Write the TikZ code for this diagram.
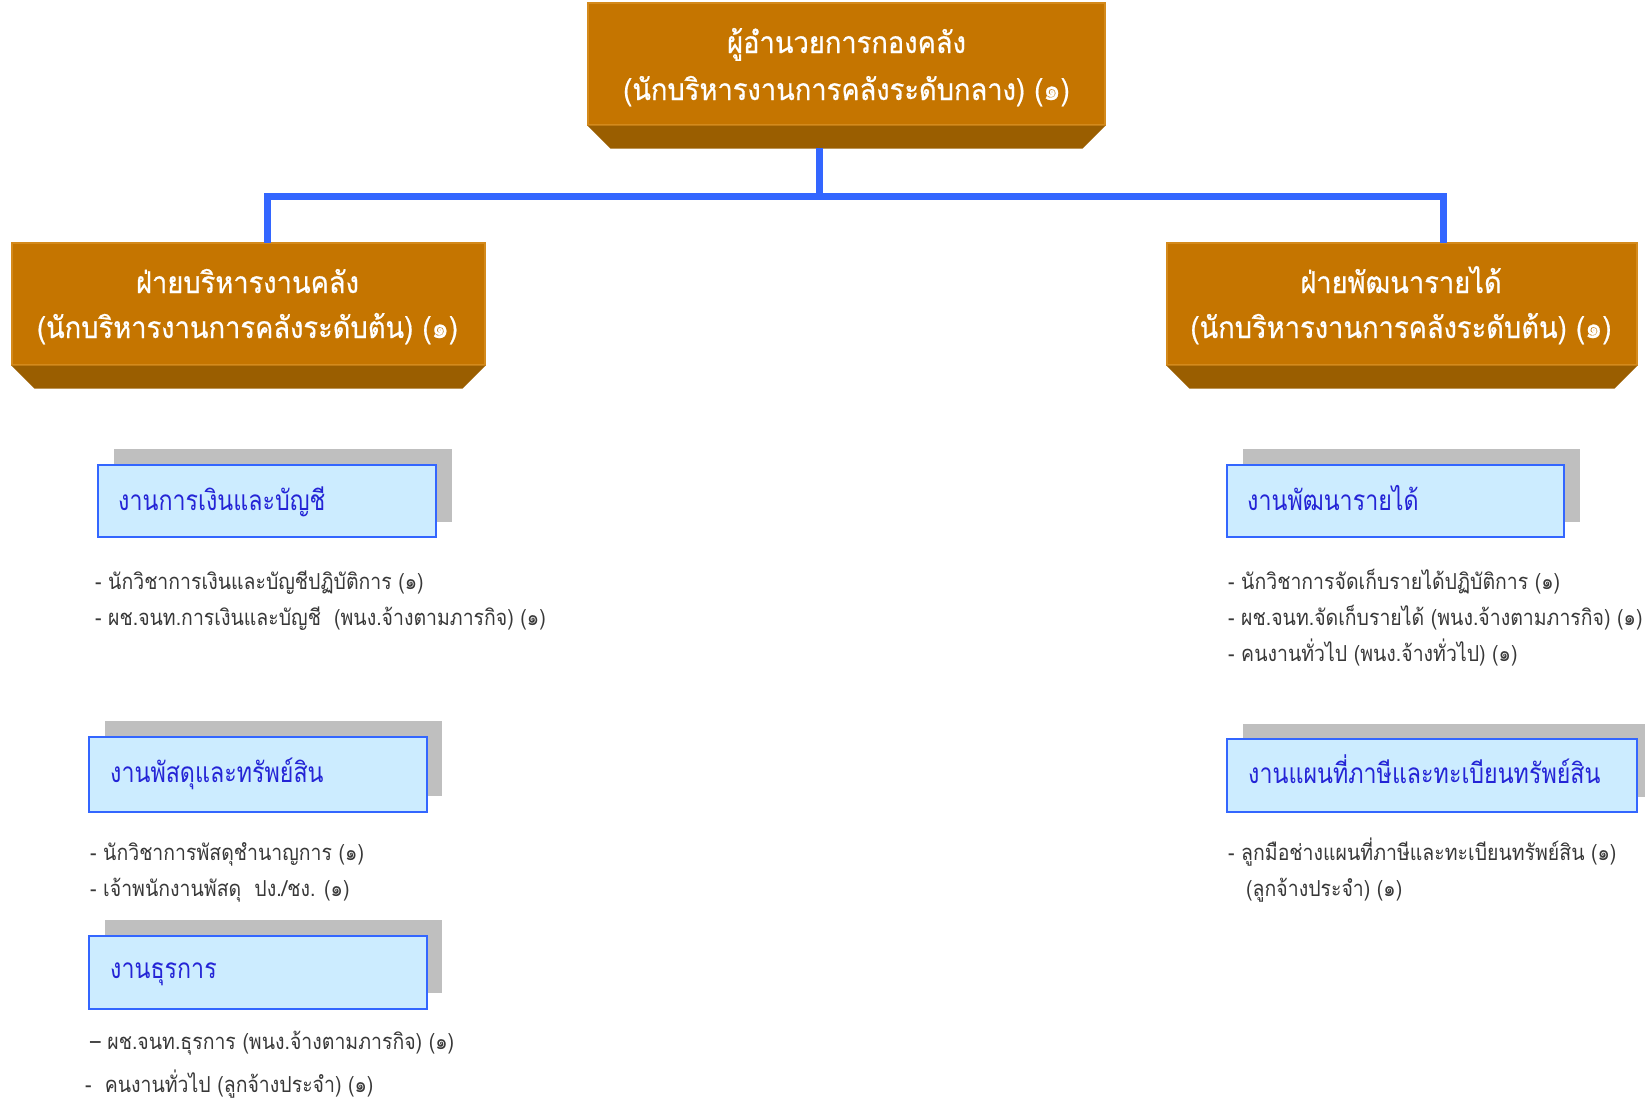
\documentclass[tikz,border=0pt]{standalone}
\usepackage{fontspec}
\newfontfamily\thaiorange[Script=Thai,FakeStretch=0.91,FakeBold=0.6]{Loma}
\newfontfamily\thaiblue[Script=Thai,FakeStretch=0.83]{Loma}
\newfontfamily\thaiitem[Script=Thai,FakeStretch=0.885]{Loma}
\definecolor{orfront}{HTML}{C57500}
\definecolor{oredge}{HTML}{D48A1C}
\definecolor{orbevel}{HTML}{9A5E00}
\definecolor{lineblue}{HTML}{3366FF}
\definecolor{lightblue}{HTML}{CCECFF}
\definecolor{boxblue}{HTML}{3366FF}
\definecolor{textblue}{HTML}{2424D6}
\definecolor{shadowgray}{HTML}{BFBFBF}
\definecolor{itemgray}{HTML}{383838}
\begin{document}
\begin{tikzpicture}[x=1pt,y=-1pt,
  orbox/.style={fill=orfront, draw=oredge, line width=1.2pt, inner sep=0pt, minimum height=122pt},
  ortext/.style={text=white, font=\thaiorange\fontsize{30}{36}\selectfont, inner sep=0pt, anchor=base},
  shadowbox/.style={fill=shadowgray, draw=none, inner sep=0pt},
  bluebox/.style={fill=lightblue, draw=boxblue, line width=2pt, inner sep=0pt},
  bluetext/.style={text=textblue, font=\thaiblue\fontsize{28}{34}\selectfont, inner sep=0pt, anchor=base west},
  itemtext/.style={text=itemgray, font=\thaiitem\fontsize{22}{26}\selectfont, inner sep=0pt, anchor=base west},
  conn/.style={draw=lineblue, line width=7pt}]
\useasboundingbox (0,0) rectangle (1645,1100);

% ---------- orange boxes ----------
\node[orbox, minimum width=517pt] (dir) at (846.5,64) {};
\fill[orbevel] (dir.south west) -- ++(23,23) -- ([xshift=-23pt,yshift=-23pt]dir.south east) -- (dir.south east) -- cycle;
\node[ortext] (dirt1) at (846.5,53) {ผู้อำนวยการกองคลัง};
\node[ortext] (dirt2) at (846.5,100) {(นักบริหารงานการคลังระดับกลาง) (๑)};

\node[orbox, minimum width=473pt] (lb) at (248.5,304) {};
\fill[orbevel] (lb.south west) -- ++(23,23) -- ([xshift=-23pt,yshift=-23pt]lb.south east) -- (lb.south east) -- cycle;
\node[ortext] (lbt1) at (247.5,293) {ฝ่ายบริหารงานคลัง};
\node[ortext] (lbt2) at (247.5,338) {(นักบริหารงานการคลังระดับต้น) (๑)};

\node[orbox, minimum width=470pt] (rb) at (1402,304) {};
\fill[orbevel] (rb.south west) -- ++(23,23) -- ([xshift=-23pt,yshift=-23pt]rb.south east) -- (rb.south east) -- cycle;
\node[ortext] (rbt1) at (1401,293) {ฝ่ายพัฒนารายได้};
\node[ortext] (rbt2) at (1401,338) {(นักบริหารงานการคลังระดับต้น) (๑)};

% ---------- connectors ----------
\coordinate (tj) at (819.5,148);
\coordinate (hj) at (819.5,196.5);
\coordinate (lj) at (267,243);
\coordinate (rj) at (1443.5,243);
\draw[conn] (tj) -- (hj);
\draw[conn, line join=miter] (lj) -- (lj |- hj) -- (rj |- hj) -- (rj);

% ---------- light blue boxes ----------
\node[shadowbox, minimum width=338pt, minimum height=73pt] (s1) at (283,485.5) {};
\node[bluebox, minimum width=338pt, minimum height=72pt] (b1) at (267,501) {};
\node[bluetext] (b1t) at (118,510) {งานการเงินและบัญชี};

\node[shadowbox, minimum width=337pt, minimum height=73pt] (s2) at (1411.5,485.5) {};
\node[bluebox, minimum width=337pt, minimum height=72pt] (b2) at (1395.5,501) {};
\node[bluetext] (b2t) at (1247,510) {งานพัฒนารายได้};

\node[shadowbox, minimum width=337pt, minimum height=75pt] (s3) at (273.5,758.5) {};
\node[bluebox, minimum width=338pt, minimum height=75pt] (b3) at (258,774.5) {};
\node[bluetext] (b3t) at (110,782) {งานพัสดุและทรัพย์สิน};

\node[shadowbox, minimum width=337pt, minimum height=73pt] (s4) at (273.5,956.5) {};
\node[bluebox, minimum width=338pt, minimum height=73pt] (b4) at (258,972.5) {};
\node[bluetext] (b4t) at (110,978) {งานธุรการ};

\node[shadowbox, minimum width=402pt, minimum height=73pt] (s5) at (1444,760.5) {};
\node[bluebox, minimum width=410pt, minimum height=73pt] (b5) at (1432,775.5) {};
\node[bluetext] (b5t) at (1248,783) {งานแผนที่ภาษีและทะเบียนทรัพย์สิน};

% ---------- item lists ----------
\node[itemtext] (i11) at (95,589) {- นักวิชาการเงินและบัญชีปฏิบัติการ (๑)};
\node[itemtext] (i12) at (95,625) {- ผช.จนท.การเงินและบัญชี\ \ (พนง.จ้างตามภารกิจ) (๑)};

\node[itemtext] (i21) at (1228,589) {- นักวิชาการจัดเก็บรายได้ปฏิบัติการ (๑)};
\node[itemtext] (i22) at (1228,625) {- ผช.จนท.จัดเก็บรายได้ (พนง.จ้างตามภารกิจ) (๑)};
\node[itemtext] (i23) at (1228,661) {- คนงานทั่วไป (พนง.จ้างทั่วไป) (๑)};

\node[itemtext] (i31) at (90,860) {- นักวิชาการพัสดุชำนาญการ (๑)};
\node[itemtext] (i32) at (90,896) {- เจ้าพนักงานพัสดุ\ \ ปง./ชง. (๑)};

\node[itemtext] (i41) at (90,1049) {– ผช.จนท.ธุรการ (พนง.จ้างตามภารกิจ) (๑)};
\node[itemtext] (i42) at (85,1092) {-\ \ คนงานทั่วไป (ลูกจ้างประจำ) (๑)};

\node[itemtext] (i51) at (1228,860) {- ลูกมือช่างแผนที่ภาษีและทะเบียนทรัพย์สิน (๑)};
\node[itemtext] (i52) at (1246,896) {(ลูกจ้างประจำ) (๑)};
\end{tikzpicture}
\end{document}
